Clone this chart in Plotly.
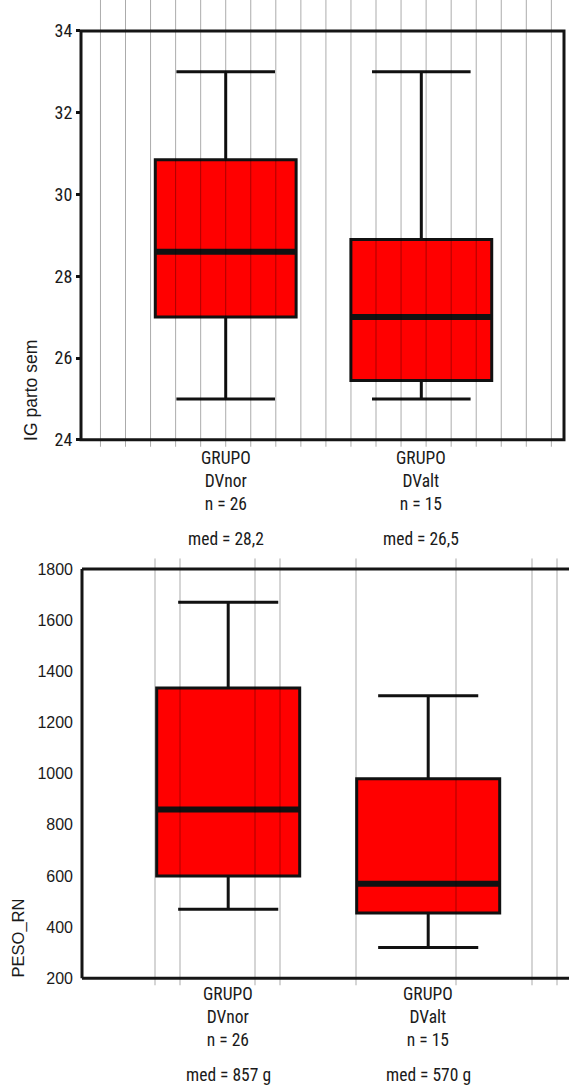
import numpy as np
import plotly.graph_objects as go

# ---------------- data ----------------
groups = ["DVnor", "DValt"]
n_obs = [26, 15]
positions = [0, 1]

# Top panel: IG parto sem (weeks)
ig_lower = [25.0, 25.0]
ig_q1 = [27.0, 25.45]
ig_median = [28.6, 27.0]
ig_q3 = [30.85, 28.9]
ig_upper = [33.0, 33.0]
ig_med_labels = ["28,2", "26,5"]

# Bottom panel: PESO_RN (g)
peso_lower = [470, 320]
peso_q1 = [600, 455]
peso_median = [860, 570]
peso_q3 = [1335, 980]
peso_upper = [1670, 1305]
peso_med_labels = ["857 g", "570 g"]

ig_ticks = [24, 26, 28, 30, 32, 34]
peso_ticks = [200, 400, 600, 800, 1000, 1200, 1400, 1600, 1800]

# ---------------- layout geometry ----------------
W, H = 569, 1087
NARROW = "Liberation Sans Narrow, Arial Narrow, Roboto Condensed, sans-serif"
REG = "Liberation Sans, Arial, sans-serif"
TXT = "#1a1a1a"

def px_x(px):
    return px / W

def py(px):
    return 1 - px / H

BOX_W1 = 0.72
BOX_W2 = 0.715

fig = go.Figure()

def add_panel(xa, ya, lower, q1, med, q3, upper, bw):
    fig.add_trace(go.Box(
        x=positions, q1=q1, median=med, q3=q3,
        lowerfence=lower, upperfence=upper,
        width=bw, whiskerwidth=0.7, boxpoints=False,
        fillcolor="#ff0000", line=dict(color="#111111", width=3),
        xaxis=xa, yaxis=ya, showlegend=False, hoverinfo="skip",
    ))
    for p, m in zip(positions, med):
        fig.add_trace(go.Scatter(
            x=[p - bw / 2, p + bw / 2], y=[m, m], mode="lines",
            line=dict(color="#111111", width=6),
            xaxis=xa, yaxis=ya, showlegend=False, hoverinfo="skip",
        ))

add_panel("x", "y", ig_lower, ig_q1, ig_median, ig_q3, ig_upper, BOX_W1)
add_panel("x2", "y2", peso_lower, peso_q1, peso_median, peso_q3, peso_upper, BOX_W2)

shapes = []
GRID = dict(color="rgba(0,0,0,0.33)", width=1)
# top panel: regular vertical grid (scan lines)
step1 = 25.05 / 195.6
for k in range(-5, 14):
    shapes.append(dict(type="line", xref="x", yref="y domain", x0=k * step1, x1=k * step1,
                       y0=0, y1=1, line=GRID, layer="above"))
# bottom panel: irregular vertical grid
grid2 = [-0.366, -0.241, 0.134, 0.259, 0.639, 1.139, 1.519, 1.644]
for g in grid2:
    shapes.append(dict(type="line", xref="x2", yref="y2 domain", x0=g, x1=g,
                       y0=0, y1=1, line=GRID, layer="above"))

FRAME = dict(color="#151515", width=3)
# top frame
shapes.append(dict(type="rect", xref="x domain", yref="y", x0=0, x1=1,
                   y0=ig_ticks[0], y1=ig_ticks[-1], line=FRAME, layer="above"))
# bottom frame (no right edge)
shapes.append(dict(type="line", xref="x2 domain", yref="y2", x0=0, x1=1,
                   y0=peso_ticks[-1], y1=peso_ticks[-1], line=FRAME, layer="above"))
shapes.append(dict(type="line", xref="x2 domain", yref="y2", x0=0, x1=1,
                   y0=peso_ticks[0], y1=peso_ticks[0], line=FRAME, layer="above"))
shapes.append(dict(type="line", xref="x2 domain", yref="y2", x0=0, x1=0,
                   y0=peso_ticks[0], y1=peso_ticks[-1], line=FRAME, layer="above"))

annotations = []
LAB = dict(family=NARROW, size=17.5, color=TXT)
for p, g, n, m in zip(positions, groups, n_obs, ig_med_labels):
    annotations.append(dict(x=p, y=py(482), xref="x", yref="paper", showarrow=False,
                            text=f"GRUPO<br>{g}<br>n = {n}", xanchor="center", yanchor="middle",
                            font=LAB))
    annotations.append(dict(x=p, y=py(540), xref="x", yref="paper", showarrow=False,
                            text=f"med = {m}", xanchor="center", yanchor="middle",
                            font=LAB))
for p, g, n, m in zip(positions, groups, n_obs, peso_med_labels):
    annotations.append(dict(x=p, y=py(1020), xref="x2", yref="paper", showarrow=False,
                            text=f"GRUPO<br>{g}<br>n = {n}", xanchor="center", yanchor="middle",
                            font=LAB))
    annotations.append(dict(x=p, y=py(1078), xref="x2", yref="paper", showarrow=False,
                            text=f"med = {m}", xanchor="center", yanchor="middle",
                            font=LAB))

annotations.append(dict(x=px_x(31), y=py(392), xref="paper", yref="paper", showarrow=False,
                        text="IG parto sem", textangle=-90, xanchor="center", yanchor="middle",
                        font=dict(family=REG, size=17.5, color=TXT)))
annotations.append(dict(x=px_x(18), y=py(941), xref="paper", yref="paper", showarrow=False,
                        text="PESO_RN", textangle=-90, xanchor="center", yanchor="middle",
                        font=dict(family=REG, size=16.5, color=TXT)))

fig.update_layout(
    width=W, height=H,
    margin=dict(l=0, r=0, t=0, b=0),
    paper_bgcolor="white", plot_bgcolor="white",
    shapes=shapes, annotations=annotations,
    xaxis=dict(domain=[px_x(81), px_x(564)], range=[-0.7398, 1.7295], showgrid=False,
               zeroline=False, showticklabels=False, ticks=""),
    yaxis=dict(domain=[py(448), 1.0], range=[23.829, 34.756], tickvals=ig_ticks,
               showgrid=False, zeroline=False, showline=False,
               ticks="outside", ticklen=4, tickwidth=3, tickcolor="#111111",
               tickfont=dict(family=NARROW, size=18, color=TXT)),
    xaxis2=dict(domain=[px_x(82), 1.0], range=[-0.731, 1.704], showgrid=False,
                zeroline=False, showticklabels=False, ticks="", anchor="y2"),
    yaxis2=dict(domain=[py(988), py(560)], range=[172.7, 1841.7], tickvals=peso_ticks,
                showgrid=False, zeroline=False, showline=False, ticks="",
                ticklabelstandoff=8, anchor="x2",
                tickfont=dict(family=REG, size=16, color=TXT)),
)

fig.write_html(
    "out.html",
    config={"displayModeBar": False},
    post_script="document.body.style.margin='0';document.body.style.overflow='hidden';",
)
